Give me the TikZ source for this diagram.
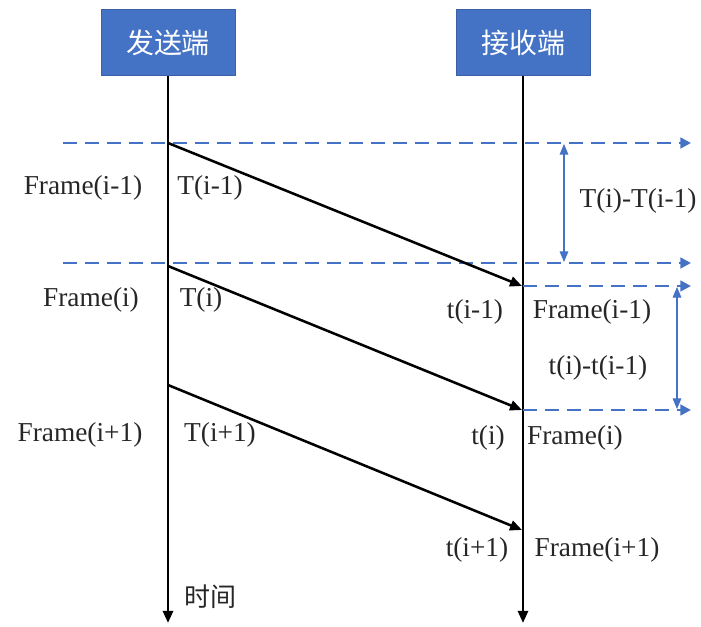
\documentclass[tikz,border=0pt]{standalone}
\usepackage{fontspec}
\setmainfont{Liberation Serif}
\newfontfamily\cjk{Noto Sans CJK SC}
\usetikzlibrary{arrows.meta}
\definecolor{myblue}{HTML}{4472C4}
\begin{document}
\begin{tikzpicture}[x=0.75pt,y=-0.75pt,
  box/.style={fill=myblue, draw=myblue!85!black, line width=0.6pt, minimum width=100.5pt, minimum height=50pt, inner sep=0pt, font=\cjk\fontsize{21}{25}\selectfont, text=white},
  lbl/.style={font=\fontsize{20.5}{24}\selectfont, inner sep=0pt, text=black!85},
  life/.style={line width=1.9pt, -{Triangle[length=9pt,width=7.5pt]}},
  msg/.style={line width=1.9pt, -{Triangle[length=9pt,width=7.5pt]}},
  guide/.style={myblue, line width=1.9pt, dash pattern=on 10.5pt off 6pt, -{Triangle[length=8pt,width=8pt]}},
  dim/.style={myblue, line width=0.8pt, {Triangle[length=8pt,width=6.5pt]}-{Triangle[length=8pt,width=6.5pt]}}
]
\useasboundingbox (0,0) rectangle (701,627);

% header boxes
\node[box] (s) at (168,42.5) {发送端};
\node[box] (r) at (523,42.5) {接收端};

% lifelines
\coordinate (sEnd) at (168,623);
\coordinate (rEnd) at (523,623);
\draw[life] (s) -- (sEnd);
\draw[life] (r) -- (rEnd);

% dashed guides
\coordinate (g1a) at (63,143);  \coordinate (g1b) at (691,143);
\coordinate (g2a) at (63,263);  \coordinate (g2b) at (691,263);
\coordinate (g3a) at (523,286); \coordinate (g3b) at (691,286);
\coordinate (g4a) at (523,410); \coordinate (g4b) at (691,410);
\draw[guide] (g1a) -- (g1b);
\draw[guide] (g2a) -- (g2b);
\draw[guide] (g3a) -- (g3b);
\draw[guide] (g4a) -- (g4b);

% dimension arrows
\coordinate (da1) at (564,144); \coordinate (da2) at (564,262);
\coordinate (db1) at (677,287); \coordinate (db2) at (677,409);
\draw[dim] (da1) -- (da2);
\draw[dim] (db1) -- (db2);
\node[lbl] (dT) at (638,201) {T(i)-T(i-1)};
\node[lbl] (dt) at (598,368) {t(i)-t(i-1)};

% messages
\coordinate (m1a) at (168,143); \coordinate (m1b) at (522,286);
\coordinate (m2a) at (168,266); \coordinate (m2b) at (522,410);
\coordinate (m3a) at (168,385); \coordinate (m3b) at (522,530);
\draw[msg] (m1a) -- (m1b);
\draw[msg] (m2a) -- (m2b);
\draw[msg] (m3a) -- (m3b);

% sender labels
\node[lbl] (f1) at (83,188) {Frame(i-1)};
\node[lbl] (T1) at (210,188) {T(i-1)};
\node[lbl] (f2) at (91,300) {Frame(i)};
\node[lbl] (T2) at (201,300) {T(i)};
\node[lbl] (f3) at (80,435) {Frame(i+1)};
\node[lbl] (T3) at (220,435) {T(i+1)};

% receiver labels
\node[lbl] (t1) at (475,312) {t(i-1)};
\node[lbl] (F1) at (592,312) {Frame(i-1)};
\node[lbl] (t2) at (488,438) {t(i)};
\node[lbl] (F2) at (575,438) {Frame(i)};
\node[lbl] (t3) at (477,550) {t(i+1)};
\node[lbl] (F3) at (597,550) {Frame(i+1)};

% time label
\node[lbl, font=\cjk\fontsize{19.5}{22}\selectfont] (time) at (210,597) {时间};
\end{tikzpicture}
\end{document}
